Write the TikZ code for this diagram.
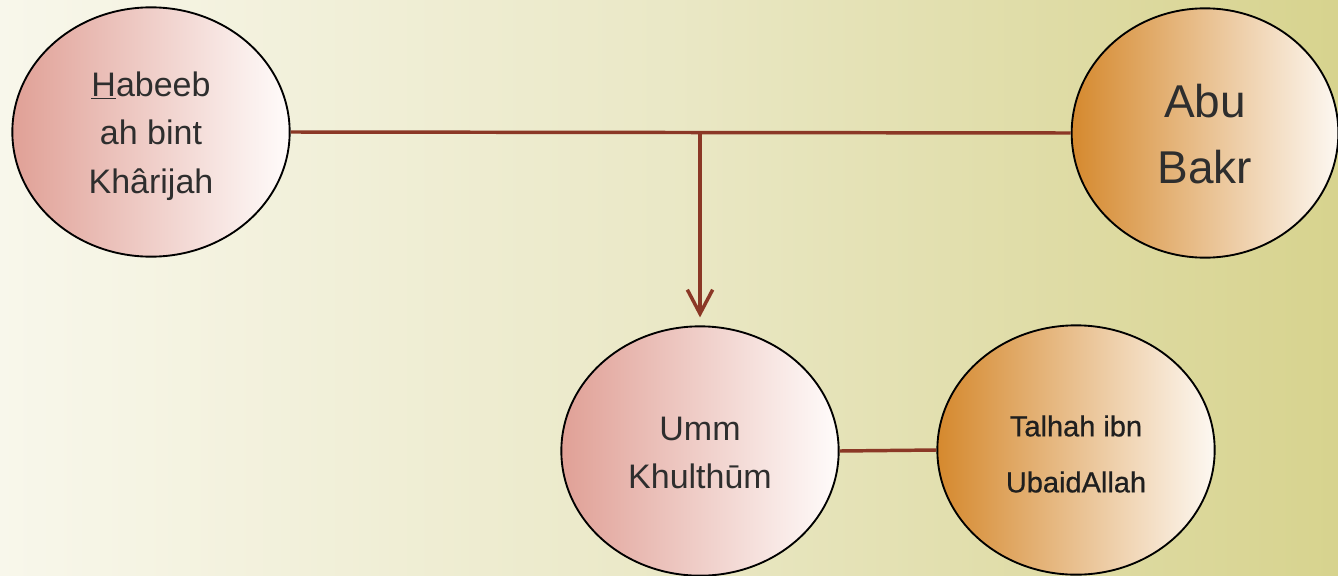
\documentclass[tikz,border=0pt]{standalone}
\usepackage{fontspec}
\setmainfont{Liberation Sans}
\usetikzlibrary{arrows.meta,shapes.geometric}
\definecolor{bgL}{HTML}{F8F7EB}
\definecolor{bgM}{HTML}{EAE8C6}
\definecolor{bgR}{HTML}{D7D38E}
\definecolor{pinkL}{HTML}{E0A096}
\definecolor{pinkR}{HTML}{FFFCFB}
\definecolor{orL}{HTML}{D5892E}
\definecolor{orR}{HTML}{FDF8F2}
\definecolor{linkc}{HTML}{8B3826}
\definecolor{txt}{HTML}{2E2E2E}
\tikzset{
  person/.style={ellipse, draw=black, line width=1.4pt, minimum width=208pt, minimum height=187pt, inner sep=0pt},
  female/.style={person, left color=pinkL, right color=pinkR},
  male/.style={person, left color=orL, right color=orR},
  nametext/.style={align=center, text=txt, inner sep=0pt},
  link/.style={draw=linkc, line width=2.6pt},
}
\begin{document}
\begin{tikzpicture}[x=0.75pt,y=-0.75pt]
\useasboundingbox (0,0) rectangle (1338,575);
\shade[left color=bgL, right color=bgR, middle color=bgM] (0,0) rectangle (1338,575);
\node[female, label={[nametext, yshift=-3pt, font=\fontsize{25.5}{36.5}\selectfont]center:\underline{H}abeeb\\ah bint\\Khârijah}] (hab) at (151,132) {};
\node[male, minimum width=200pt, label={[nametext, yshift=-0.5pt, font=\fontsize{34.5}{49.5}\selectfont]center:Abu\\Bakr}] (abu) at (1205,133) {};
\node[female, label={[nametext, yshift=-1.5pt, font=\fontsize{25.5}{36}\selectfont]center:Umm\\Khulthūm}] (umm) at (700,451) {};
\node[male, label={[nametext, yshift=-3pt, text=black!88, font=\fontsize{21.75}{42}\selectfont\addfontfeature{FakeBold=0.6}]center:Talhah ibn\\UbaidAllah}] (tal) at (1076,450) {};
\coordinate (mid) at (700,132.5);
\draw[link] (hab.east) -- (abu.west);
\draw[link, -{Straight Barb[length=18pt, width=19pt, line width=2.6pt]}] (mid) -- ([yshift=6pt]umm.north);
\draw[link] (umm.east) -- (tal.west);
\end{tikzpicture}
\end{document}
